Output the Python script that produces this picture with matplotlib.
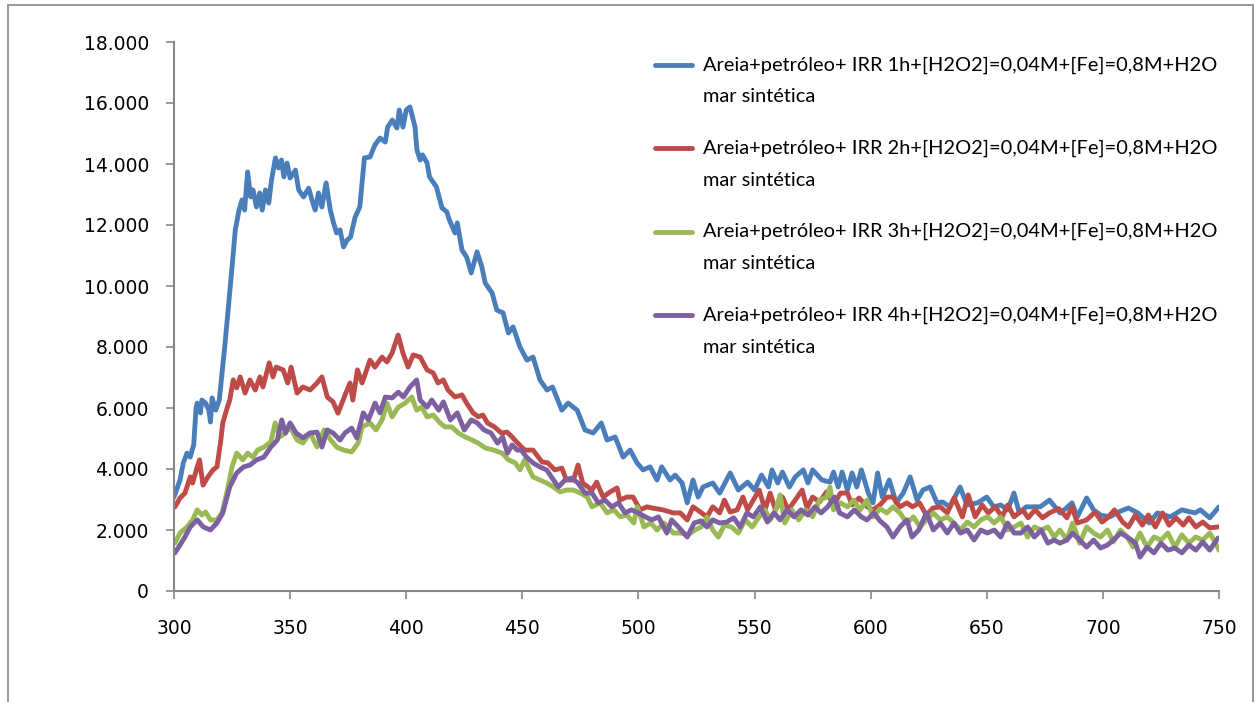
import matplotlib
matplotlib.use("Agg")
import matplotlib.pyplot as plt
from matplotlib.patches import Rectangle
from matplotlib.lines import Line2D
from matplotlib.ticker import FuncFormatter, MultipleLocator

# Emission spectra (wavelength in nm, intensity in a.u.)
wl_1h = [300, 302.6, 304, 305.6, 307, 308.5, 309.5, 310, 311.4, 312, 313.6, 315, 315.7, 316.4, 318, 319.5,
         320.7, 322, 323.6, 325, 326.4, 328, 329.3, 330.4, 331.7, 333, 334, 335.5, 336.9, 338, 339.4, 340.8,
         342, 343.7, 345, 346.3, 347.3, 348.7, 350, 352.3, 353.7, 355.8, 358, 359.4, 360.8, 362.2, 363.7,
         365.5, 367.3, 368.7, 370, 371.5, 373, 374.5, 376, 378, 380, 382, 384.4, 386.5, 388.7, 391, 392,
         394, 396, 397, 398.6, 400, 401.6, 403.8, 404.6, 406, 407, 409, 410, 413, 415.4, 417.5, 418.4, 421,
         422, 424, 426, 428, 430.5, 432.6, 434, 437, 439, 441.7, 444, 446, 449, 452, 454.6, 457.6, 460.6,
         463, 467, 469.7, 473.6, 477, 480.5, 484, 486.5, 490, 493.4, 496.4, 499.4, 502, 505, 508, 510,
         513.6, 515.8, 518.8, 521, 523.5, 525.7, 527.8, 532, 535, 539.5, 543, 547, 550, 553, 556, 557.5,
         560, 562, 565, 567.5, 571, 573, 575, 579, 582.5, 584, 586, 587.7, 590, 592, 594, 596, 599, 601,
         603, 605, 608, 611, 614, 617, 620, 622.5, 625.6, 628.6, 631, 634, 638.5, 641.5, 646, 650, 653,
         656, 659, 661.7, 664, 667, 673, 677, 681.5, 684, 686.7, 689, 693, 696, 699, 703, 707, 711, 715,
         720, 723.5, 729, 734, 739.6, 742, 746, 750]
int_1h = [3080, 3640, 4200, 4520, 4390, 4800, 6000, 6160, 5840, 6260, 6160, 5930, 5540, 6330, 5930, 6260,
          7150, 8130, 9440, 10620, 11840, 12490, 12820, 12490, 13740, 12920, 13150, 12590, 13050, 12490,
          13150, 12720, 13480, 14200, 13870, 14130, 13580, 14030, 13540, 13800, 13150, 12920, 13210, 12820,
          12490, 13050, 12590, 13380, 12490, 12070, 11740, 11840, 11280, 11500, 11600, 12260, 12590, 14200,
          14230, 14620, 14850, 14720, 15210, 15440, 15180, 15770, 15210, 15770, 15870, 15210, 14460, 14130,
          14300, 14030, 13580, 13250, 12560, 12430, 12200, 11740, 12070, 11180, 10950, 10430, 11120, 10620,
          10100, 9770, 9210, 9120, 8460, 8660, 8000, 7570, 7670, 6920, 6590, 6690, 5930, 6160, 5930, 5280,
          5180, 5510, 4950, 5050, 4390, 4620, 4200, 3970, 4070, 3640, 4070, 3640, 3800, 3540, 2890, 3640,
          3080, 3410, 3540, 3210, 3870, 3310, 3570, 3310, 3800, 3410, 3970, 3540, 3900, 3410, 3740, 3970,
          3540, 3970, 3640, 3570, 3900, 3410, 3900, 3310, 3870, 3410, 3970, 3210, 2890, 3870, 3080, 3640,
          2890, 3210, 3740, 2980, 3310, 3410, 2890, 2920, 2760, 3410, 2820, 2890, 3080, 2760, 2820, 2660,
          3210, 2560, 2760, 2760, 2980, 2560, 2700, 2890, 2430, 3050, 2660, 2490, 2430, 2600, 2720, 2560,
          2230, 2560, 2430, 2660, 2560, 2660, 2400, 2760]

wl_2h = [300.4, 302.6, 304.7, 307, 308, 310, 311, 312.5, 314.6, 316.8, 318.5, 320, 321, 323, 324, 325.5,
         327, 328.5, 330.6, 332.7, 335, 337, 338.3, 341, 342.6, 344, 347, 349, 350.4, 353, 355.5, 358.6,
         361.6, 363.7, 366, 368.5, 370.6, 374, 375.8, 377, 379, 381, 384.4, 386.5, 389.6, 391.7, 393.9,
         396.5, 398.6, 400.8, 403, 406, 409, 411.6, 413.7, 416, 418, 421, 424, 426, 428.8, 431, 433, 435,
         438, 441, 443.4, 445.6, 448, 451, 454.6, 458.5, 461, 464, 467, 469, 472, 474, 476, 480, 482,
         484.8, 487.8, 490.8, 492, 495, 497.7, 500.7, 503.7, 506, 510.5, 515, 518, 521, 523.5, 526.5,
         529.5, 532, 535, 537, 539.5, 542.5, 545, 547, 549, 552, 554.5, 556.7, 559, 562, 564.5, 567.5,
         570.5, 572.6, 575, 578, 581, 584, 587, 590, 592, 595, 598.5, 601, 604, 607, 609.6, 612.6, 615.6,
         618, 621, 624, 626.8, 630, 633, 636, 639.5, 642, 645, 648, 650.6, 653.6, 656.6, 659, 661.7,
         665.5, 667.8, 670.8, 674, 677, 681, 684.5, 686.7, 689, 693, 696.6, 699.6, 702, 705, 708.5, 711,
         714, 717, 719.6, 722.6, 725.7, 728.5, 731.5, 734.6, 737, 740, 743, 746, 749.6]
int_2h = [2760, 3050, 3210, 3740, 3540, 4070, 4300, 3470, 3740, 3970, 4070, 4850, 5510, 6030, 6260, 6920,
          6660, 7020, 6490, 6920, 6590, 7020, 6690, 7480, 7020, 7340, 7250, 6820, 7340, 6490, 6690, 6590,
          6820, 7020, 6360, 6200, 5830, 6490, 6820, 6260, 7250, 6820, 7570, 7340, 7670, 7510, 7800, 8390,
          7800, 7340, 7740, 7670, 7250, 7150, 6820, 6920, 6590, 6360, 6430, 6160, 5840, 5710, 5770, 5510,
          5380, 5180, 5210, 5050, 4850, 4620, 4620, 4230, 4200, 3970, 4030, 3640, 3640, 4130, 3540, 3310,
          3570, 3080, 3250, 3380, 2980, 3080, 3080, 2660, 2760, 2720, 2660, 2560, 2560, 2330, 2760, 2600,
          2430, 2760, 2560, 2980, 2590, 2660, 3080, 2660, 2920, 3310, 2660, 3210, 2660, 3080, 2660, 2980,
          3310, 2720, 3080, 2920, 3250, 2820, 3210, 3210, 2820, 3050, 2760, 2660, 2820, 3080, 3080, 2760,
          2890, 2760, 2890, 2490, 2720, 2760, 2560, 3050, 2430, 3150, 2430, 2820, 2560, 2760, 2430, 2820,
          2430, 2660, 2400, 2660, 2400, 2560, 2700, 2400, 2760, 2230, 2330, 2590, 2260, 2400, 2660, 2260,
          2100, 2490, 2160, 2490, 2100, 2560, 2160, 2400, 2160, 2400, 2100, 2260, 2070, 2100]

wl_3h = [300.4, 302.6, 305.6, 308, 310, 312, 313.6, 315.7, 318.5, 320.7, 323, 325, 327, 329.6, 331.7, 334,
         336, 338.8, 341.7, 343.6, 345.6, 348, 350, 353, 355.5, 358.6, 361.6, 364.6, 367.5, 370, 373,
         376.5, 379.3, 381, 384.4, 387, 389.6, 391.7, 393.9, 396.6, 399.5, 402.4, 404.5, 406.7, 409,
         411.6, 414.6, 416.7, 419.6, 422.5, 425.4, 428.3, 431, 434, 437.7, 441.3, 444, 447, 449, 451,
         454.6, 457.5, 460.5, 463.4, 466.3, 469, 472, 475, 478, 480, 483.5, 486.5, 489.4, 492.2, 495, 498,
         499.5, 502.4, 505.3, 508, 511, 515, 518.5, 521.4, 524.3, 527, 529.5, 532, 534.4, 537, 540, 543,
         546, 549, 552, 554.5, 556.7, 559, 561, 563, 566, 569, 572, 575, 578, 581, 582.5, 584, 587, 590,
         592.7, 595.5, 598.4, 601, 604, 607, 609.6, 612.6, 615.6, 618.4, 621.3, 624, 627, 630, 633, 635.8,
         638.7, 641.6, 644.5, 647.4, 650.3, 653.2, 656, 659, 661.8, 664.7, 667.6, 670.5, 673.4, 676.3,
         679, 681.5, 684.5, 687, 690, 693, 696, 699, 702, 704.5, 707.6, 710.5, 713, 716, 719, 722, 725,
         728, 731, 734, 737, 740, 743, 746, 748.5, 750]
int_3h = [1570, 1900, 2100, 2330, 2660, 2490, 2590, 2330, 2330, 2560, 3310, 4070, 4520, 4300, 4520, 4390,
          4620, 4720, 4890, 5510, 5050, 5180, 5380, 4950, 4850, 5180, 4720, 5280, 4950, 4720, 4620, 4560,
          4850, 5380, 5510, 5280, 5610, 6160, 5710, 6030, 6160, 6360, 5930, 6030, 5710, 5770, 5510, 5380,
          5380, 5180, 5050, 4950, 4850, 4690, 4620, 4520, 4300, 4200, 3970, 4300, 3740, 3640, 3540, 3410,
          3250, 3310, 3310, 3210, 3080, 2760, 2890, 2560, 2660, 2430, 2490, 2230, 2760, 2100, 2230, 2000,
          2230, 1900, 1900, 1840, 2000, 2100, 2430, 2000, 1770, 2160, 2100, 1900, 2330, 2100, 2430, 2660,
          2330, 2660, 3150, 2230, 2660, 2330, 2660, 2430, 2980, 3080, 3410, 2660, 2890, 2760, 2980, 2660,
          2980, 2430, 2700, 2560, 2760, 2560, 2230, 2430, 2100, 2330, 2560, 2330, 2430, 2230, 2000, 2260,
          2100, 2330, 2430, 2230, 2430, 2000, 2100, 2230, 1770, 2100, 2000, 2100, 1770, 2000, 1670, 2230,
          1570, 2100, 1900, 1770, 2000, 1610, 2000, 1770, 1440, 1900, 1440, 1770, 1670, 1900, 1440, 1840,
          1570, 1770, 1670, 1900, 1570, 1340]

wl_4h = [300.4, 302.6, 304.7, 307, 310, 312.6, 315.7, 318.5, 321, 324, 327, 330, 332.7, 335.6, 338.7,
         341.7, 344.5, 346.4, 348, 350, 352.6, 355.5, 358.6, 361.6, 363.7, 366, 368.5, 371.5, 373.6,
         376.5, 378.7, 381.5, 383.7, 386.6, 388.7, 391, 393.9, 396.6, 398.8, 401.6, 404.5, 406, 409, 411,
         414, 416, 419, 422, 425, 428, 430.6, 433.5, 436.5, 439.3, 441.5, 443.6, 445.6, 447.8, 449.5,
         451.8, 454.6, 457.5, 460.5, 463.4, 465.5, 468.4, 471.2, 474, 477, 480, 482.7, 485.6, 488.5,
         491.4, 494.2, 497, 500, 503, 505.7, 508.6, 512.2, 514.3, 517.2, 521, 524, 527, 529.5, 532, 535,
         538, 541, 543.8, 546.7, 549.5, 552.5, 555.5, 558.4, 561, 564, 567, 570, 573, 576, 578.6, 581.5,
         584.4, 586.6, 590, 593, 596, 598.4, 601.4, 604, 607, 609.6, 612.6, 615.6, 617.8, 620.7, 624, 627,
         630, 633, 635.8, 638.7, 641.6, 644.5, 647.4, 650.3, 653.2, 656, 659, 661.8, 664.7, 667.6, 670.5,
         673.4, 676.3, 679, 681.5, 684.5, 687, 690, 693, 696, 699, 702, 704.5, 707.6, 710.5, 714, 716,
         719, 722, 725, 728, 731, 734, 737, 740, 743, 746, 749.6]
int_4h = [1250, 1510, 1770, 2100, 2330, 2100, 2000, 2230, 2560, 3410, 3870, 4070, 4130, 4300, 4390, 4720,
          4950, 5610, 5180, 5510, 5180, 5020, 5180, 5210, 4720, 5280, 5180, 4950, 5180, 5340, 5020, 5840,
          5610, 6160, 5840, 6360, 6330, 6520, 6360, 6690, 6920, 6260, 6030, 6260, 5930, 6200, 5610, 5840,
          5280, 5610, 5510, 5280, 5180, 4850, 5050, 4520, 4790, 4620, 4620, 4390, 4200, 4070, 3970, 3640,
          3410, 3640, 3700, 3540, 3210, 3210, 2890, 2980, 2760, 2890, 2560, 2660, 2560, 2430, 2330, 2430,
          1900, 2330, 2100, 1770, 2230, 2300, 2100, 2330, 2230, 2260, 2400, 2100, 2560, 2430, 2760, 2260,
          2560, 2330, 2660, 2430, 2660, 2490, 2760, 2560, 2760, 3080, 2560, 2430, 2660, 2430, 2330, 2560,
          2300, 2100, 1770, 2100, 2330, 1770, 2000, 2560, 2000, 2230, 1900, 2230, 1900, 2000, 1670, 2000,
          1900, 2000, 1770, 2230, 1900, 1900, 2100, 1770, 2000, 1570, 1670, 1570, 1670, 1900, 1670, 1440,
          1670, 1410, 1510, 1670, 1900, 1770, 1570, 1110, 1440, 1250, 1570, 1340, 1410, 1250, 1510, 1340,
          1610, 1340, 1740]

series_labels = [
    "Areia+petróleo+ IRR 1h+[H2O2]=0,04M+[Fe]=0,8M+H2O\nmar sintética",
    "Areia+petróleo+ IRR 2h+[H2O2]=0,04M+[Fe]=0,8M+H2O\nmar sintética",
    "Areia+petróleo+ IRR 3h+[H2O2]=0,04M+[Fe]=0,8M+H2O\nmar sintética",
    "Areia+petróleo+ IRR 4h+[H2O2]=0,04M+[Fe]=0,8M+H2O\nmar sintética",
]
series_colors = ["#4A7EBB", "#BE4B48", "#98B954", "#7D60A0"]

x_ticks = [300, 350, 400, 450, 500, 550, 600, 650, 700, 750]
y_max = 18000
y_step = 2000

W, H = 1259, 702
fig = plt.figure(figsize=(W / 100, H / 100), dpi=100)
fig.patch.set_facecolor("white")

# chart-area frame
fig.patches.append(Rectangle((8 / W, -0.02), 1245 / W, (H - 5) / H + 0.02,
                             transform=fig.transFigure, fill=False,
                             edgecolor="#868686", linewidth=1.2))

ax = fig.add_axes([174 / W, 111 / H, 1045 / W, 549 / H])

data = [(wl_1h, int_1h), (wl_2h, int_2h), (wl_3h, int_3h), (wl_4h, int_4h)]
for (wl, val), color in zip(data, series_colors):
    ax.plot(wl, val, color=color, linewidth=3.5, solid_joinstyle="round",
            solid_capstyle="round")

ax.set_xlim(x_ticks[0], x_ticks[-1])
ax.set_ylim(0, y_max)
ax.set_xticks(x_ticks)
ax.yaxis.set_major_locator(MultipleLocator(y_step))
ax.yaxis.set_major_formatter(FuncFormatter(lambda v, p: f"{int(v):,}".replace(",", ".")))

for side in ("top", "right"):
    ax.spines[side].set_visible(False)
for side in ("left", "bottom"):
    ax.spines[side].set_color("#868686")
    ax.spines[side].set_linewidth(1.5)

ax.tick_params(axis="both", direction="out", length=6, width=1.2, color="#868686",
               labelsize=13.5, labelcolor="black")
ax.tick_params(axis="x", pad=14)
ax.tick_params(axis="y", pad=12)

# legend on the right, handle aligned with the first line of each label
row0 = 65
entry_gap = 83.4
line_gap = 32
for i, (label, color) in enumerate(zip(series_labels, series_colors)):
    yc = row0 + i * entry_gap
    fig.lines.append(Line2D([655 / W, 692 / W], [1 - yc / H, 1 - yc / H],
                            transform=fig.transFigure, color=color, linewidth=3.5,
                            solid_capstyle="round"))
    for j, part in enumerate(label.split("\n")):
        fig.text(703 / W, 1 - (yc + j * line_gap) / H, part, fontsize=14.4,
                 family="Lato", va="center", ha="left", color="black")

fig.savefig("out.png", dpi=100)
